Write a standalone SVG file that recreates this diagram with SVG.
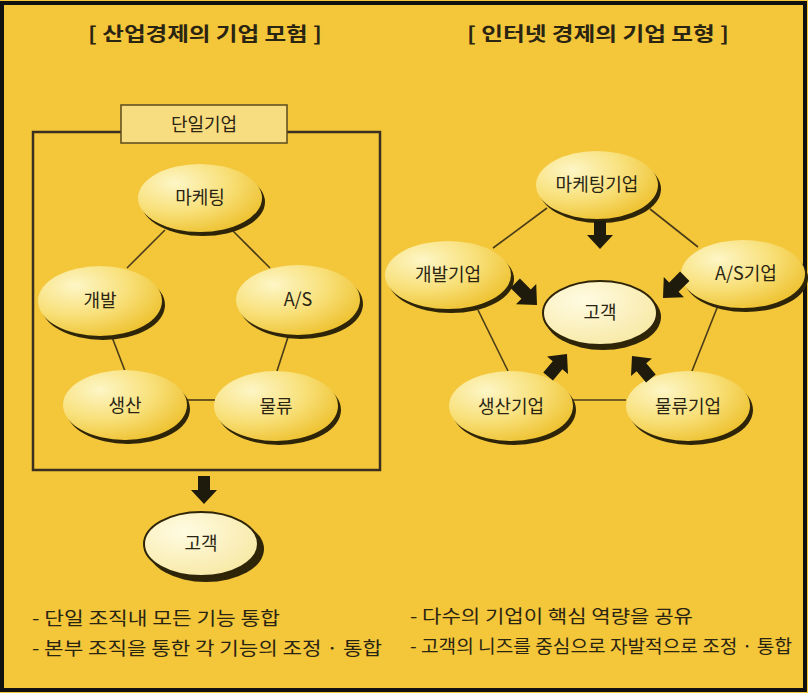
<svg xmlns="http://www.w3.org/2000/svg" width="808" height="693" viewBox="0 0 808 693">
<defs>
<radialGradient id="eg" cx="0.3" cy="0.28" r="0.85">
<stop offset="0" stop-color="#FDF6C6"/>
<stop offset="0.5" stop-color="#F8E07A"/>
<stop offset="1" stop-color="#EDBE26"/>
</radialGradient>
<radialGradient id="pg" cx="0.35" cy="0.3" r="0.8">
<stop offset="0" stop-color="#FFFBE2"/>
<stop offset="1" stop-color="#F7E8A2"/>
</radialGradient>
<path id="arr" d="M-28,-6 L-14,-6 L-14,-13 L0,0 L-14,13 L-14,6 L-28,6 Z"/>
<style>
.t{font-family:"Noto Sans CJK KR","Noto Sans",sans-serif;fill:#2a2412;text-anchor:middle;}
.lbl{font-size:18px;}
.ttl{font-size:19px;font-weight:bold;}
.bul{font-family:"Noto Sans CJK KR","Noto Sans",sans-serif;fill:#2a2412;font-size:18px;}
.sh{fill:#2e2508;}
.el{fill:url(#eg);}
.pel{fill:url(#pg);stroke:#2e2508;stroke-width:2;}
.ln{stroke:#4a3c18;stroke-width:1.6;fill:none;}
.ba{fill:#1e1a0c;}
</style>
</defs>
<rect x="0" y="0" width="808" height="693" fill="#F4C63A"/>
<rect x="2" y="3" width="803" height="687" fill="none" stroke="#111" stroke-width="4"/>

<text class="t ttl" x="205" y="41" textLength="234" lengthAdjust="spacingAndGlyphs">[ 산업경제의 기업 모험 ]</text>
<text class="t ttl" x="598" y="41" textLength="262" lengthAdjust="spacingAndGlyphs">[ 인터넷 경제의 기업 모형 ]</text>

<g id="lines">
<rect x="33" y="132" width="347" height="338" fill="none" stroke="#3b3020" stroke-width="2.5"/>
<line class="ln" x1="165" y1="230" x2="127" y2="268"/>
<line class="ln" x1="233" y1="231" x2="270" y2="268"/>
<line class="ln" x1="112" y1="337" x2="125" y2="371"/>
<line class="ln" x1="288" y1="337" x2="277" y2="371"/>
<line class="ln" x1="186" y1="400" x2="215" y2="400"/>
<line class="ln" x1="547" y1="208" x2="493" y2="248"/>
<line class="ln" x1="650" y1="209" x2="698" y2="247"/>
<line class="ln" x1="478" y1="310" x2="508" y2="371"/>
<line class="ln" x1="717" y1="308" x2="692" y2="371"/>
<line class="ln" x1="573" y1="400" x2="626" y2="400"/>
</g>

<g id="n-single">
<rect x="121" y="105" width="166" height="38" fill="#F8DC80" stroke="#5a4a20" stroke-width="1.5"/>
<text class="t lbl" x="204" y="131">단일기업</text>
</g>

<g id="n-mkt">
<ellipse class="sh" cx="203" cy="202" rx="62" ry="34"/>
<ellipse class="el" cx="200" cy="198" rx="62" ry="34"/>
<text class="t lbl" x="200" y="204">마케팅</text>
</g>
<g id="n-dev">
<ellipse class="sh" cx="103" cy="305" rx="62" ry="35"/>
<ellipse class="el" cx="100" cy="301" rx="62" ry="35"/>
<text class="t lbl" x="100" y="307">개발</text>
</g>
<g id="n-as">
<ellipse class="sh" cx="301" cy="304" rx="62" ry="35"/>
<ellipse class="el" cx="298" cy="300" rx="62" ry="35"/>
<text class="t lbl" x="298" y="306">A/S</text>
</g>
<g id="n-prod">
<ellipse class="sh" cx="128" cy="409" rx="62" ry="35"/>
<ellipse class="el" cx="125" cy="405" rx="62" ry="35"/>
<text class="t lbl" x="125" y="412">생산</text>
</g>
<g id="n-log">
<ellipse class="sh" cx="279" cy="410" rx="62" ry="35"/>
<ellipse class="el" cx="276" cy="406" rx="62" ry="35"/>
<text class="t lbl" x="276" y="413">물류</text>
</g>
<g id="n-cust1">
<ellipse class="sh" cx="206" cy="549" rx="58" ry="33"/>
<ellipse class="pel" cx="201" cy="544" rx="57" ry="32"/>
<text class="t lbl" x="201" y="550">고객</text>
</g>

<g id="n-mkt2">
<ellipse class="sh" cx="600" cy="189" rx="61" ry="34"/>
<ellipse class="el" cx="597" cy="185" rx="61" ry="34"/>
<text class="t lbl" x="597" y="191">마케팅기업</text>
</g>
<g id="n-dev2">
<ellipse class="sh" cx="451" cy="279" rx="63" ry="34"/>
<ellipse class="el" cx="448" cy="275" rx="63" ry="34"/>
<text class="t lbl" x="448" y="281">개발기업</text>
</g>
<g id="n-as2">
<ellipse class="sh" cx="746" cy="278" rx="62" ry="34"/>
<ellipse class="el" cx="743" cy="274" rx="62" ry="34"/>
<text class="t lbl" x="746" y="280">A/S기업</text>
</g>
<g id="n-cust2">
<ellipse class="sh" cx="603" cy="317" rx="58" ry="33"/>
<ellipse class="pel" cx="600" cy="313" rx="57" ry="32"/>
<text class="t lbl" x="600" y="319">고객</text>
</g>
<g id="n-prod2">
<ellipse class="sh" cx="514" cy="410" rx="62" ry="35"/>
<ellipse class="el" cx="511" cy="406" rx="62" ry="35"/>
<text class="t lbl" x="511" y="413">생산기업</text>
</g>
<g id="n-log2">
<ellipse class="sh" cx="691" cy="410" rx="62" ry="35"/>
<ellipse class="el" cx="688" cy="406" rx="62" ry="35"/>
<text class="t lbl" x="688" y="413">물류기업</text>
</g>

<g id="arrows">
<use href="#arr" class="ba" transform="translate(204,504) rotate(90)"/>
<use href="#arr" class="ba" transform="translate(600,249) rotate(90)"/>
<use href="#arr" class="ba" transform="translate(537,305) rotate(45) scale(1.1)"/>
<use href="#arr" class="ba" transform="translate(663,298) rotate(135) scale(1.1)"/>
<use href="#arr" class="ba" transform="translate(567,354) rotate(-50) scale(1.05)"/>
<use href="#arr" class="ba" transform="translate(632,356) rotate(-130) scale(1.05)"/>
</g>

<text class="bul" x="32" y="625" textLength="248" lengthAdjust="spacingAndGlyphs">- 단일 조직내 모든 기능 통합</text>
<text class="bul" x="32" y="655" textLength="350" lengthAdjust="spacingAndGlyphs">- 본부 조직을 통한 각 기능의 조정 · 통합</text>
<text class="bul" x="410" y="623" textLength="283" lengthAdjust="spacingAndGlyphs">- 다수의 기업이 핵심 역량을 공유</text>
<text class="bul" x="410" y="653" textLength="382" lengthAdjust="spacingAndGlyphs">- 고객의 니즈를 중심으로 자발적으로 조정 · 통합</text>
</svg>
